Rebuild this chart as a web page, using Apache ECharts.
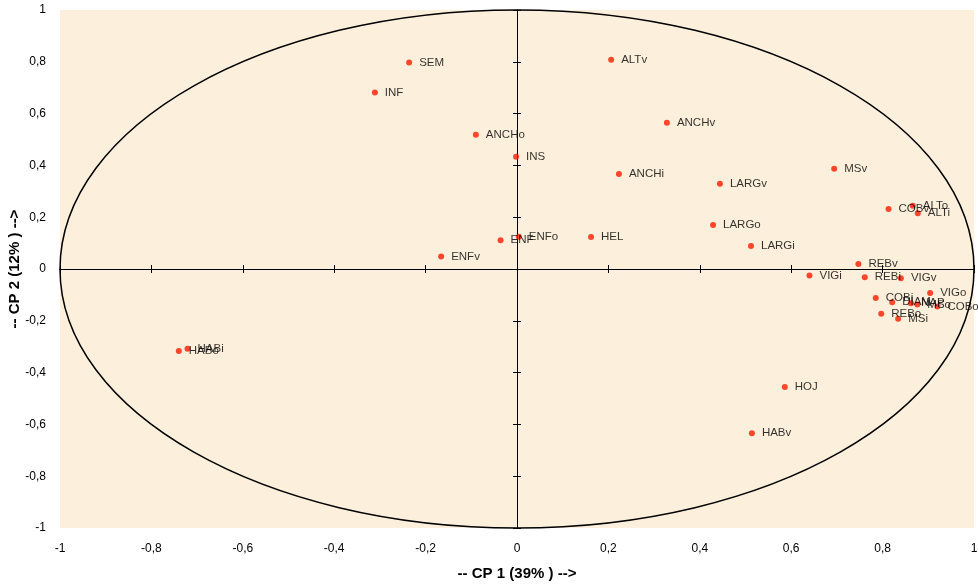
<!DOCTYPE html>
<html>
<head>
<meta charset="utf-8">
<script src="https://cdn.jsdelivr.net/npm/echarts@6/dist/echarts.min.js"></script>
<style>
    html, body {margin: 0; padding: 0; background: #fff;}
    #box {width: 978px; height: 587px;}
</style>
</head>
<body>
<div id="box"></div>
<script>
//变量名称
var names = ['SEM', 'INF', 'ALTv', 'ANCHo', 'ANCHv', 'INS', 'ANCHi', 'MSv', 'LARGv', 'COBv', 'ALTo', 'ALTi',
    'LARGo', 'LARGi', 'HEL', 'ENFo', 'ENF', 'ENFv', 'REBv', 'VIGi', 'REBi', 'VIGv', 'VIGo', 'COBi',
    'DIAM', 'NAP', 'MSo', 'COBo', 'REBo', 'MSi', 'HOJ', 'HABv', 'HABo', 'HABi'];
//CP 1 坐标
var cp1 = [-0.236, -0.311, 0.206, -0.090, 0.328, -0.002, 0.223, 0.694, 0.444, 0.813, 0.866, 0.877,
    0.429, 0.512, 0.162, 0.004, -0.036, -0.166, 0.747, 0.640, 0.761, 0.840, 0.904, 0.785,
    0.821, 0.862, 0.876, 0.920, 0.797, 0.834, 0.586, 0.514, -0.740, -0.721];
//CP 2 坐标
var cp2 = [0.797, 0.681, 0.808, 0.518, 0.565, 0.433, 0.367, 0.387, 0.329, 0.232, 0.244, 0.215,
    0.170, 0.089, 0.124, 0.125, 0.111, 0.048, 0.019, -0.025, -0.032, -0.036, -0.093, -0.112,
    -0.128, -0.132, -0.137, -0.145, -0.173, -0.192, -0.456, -0.634, -0.317, -0.308];
//刻度
var axisMin = -1, axisMax = 1, axisStep = 0.2;

var chart = echarts.init(document.getElementById('box'));

function tickLabel(v) {
    var r = Math.round(v * 10) / 10;
    return r === 0 ? '0' : String(r).replace('.', ',');
}

var points = names.map(function (n, i) {
    return {name: n, value: [cp1[i], cp2[i]]};
});

var font = 'Liberation Sans, Arial, sans-serif';

function labelAxis(extra) {
    return echarts.util.extend({
        type: 'value', min: axisMin, max: axisMax, interval: axisStep,
        axisLine: {show: false, onZero: false},
        axisTick: {show: false},
        splitLine: {show: false},
        nameMoveOverlap: false
    }, extra);
}

function zeroAxis(pos, inside) {
    return {
        type: 'value', min: axisMin, max: axisMax, interval: axisStep, position: pos,
        axisLine: {show: true, onZero: true, lineStyle: {color: '#000', width: 1}},
        axisTick: {show: true, inside: inside, length: 4, lineStyle: {color: '#000'}},
        axisLabel: {show: false},
        splitLine: {show: false}
    };
}

var option = {
    animation: false,
    grid: {
        left: 60, top: 10, width: 914, height: 518,
        outerBoundsMode: 'none', containLabel: false,
        show: true, backgroundColor: '#fcf0dc', borderWidth: 0
    },
    xAxis: [
        labelAxis({
            position: 'bottom',
            name: '-- CP 1 (39% ) -->', nameLocation: 'middle', nameGap: 38,
            nameTextStyle: {color: '#000', fontSize: 15, fontWeight: 'bold', fontFamily: font},
            axisLabel: {color: '#000', fontSize: 12, fontFamily: font, margin: 15, formatter: tickLabel}
        }),
        zeroAxis('bottom', false),
        zeroAxis('bottom', true)
    ],
    yAxis: [
        labelAxis({
            position: 'left',
            name: '-- CP 2 (12% ) -->', nameLocation: 'middle', nameGap: 38, nameRotate: 90,
            nameTextStyle: {color: '#000', fontSize: 15, fontWeight: 'bold', fontFamily: font},
            axisLabel: {color: '#000', fontSize: 12, fontFamily: font, margin: 14, formatter: tickLabel}
        }),
        zeroAxis('left', false),
        zeroAxis('left', true)
    ],
    series: [
        {
            //相关圆
            type: 'custom',
            silent: true,
            clip: false,
            data: [[0, 0, 1]],
            renderItem: function (params, api) {
                var c = api.coord([api.value(0), api.value(1)]);
                var s = api.size([api.value(2), api.value(2)]);
                return {
                    type: 'ellipse',
                    shape: {cx: c[0], cy: c[1], rx: s[0], ry: s[1]},
                    style: {fill: 'none', stroke: '#000', lineWidth: 1.5}
                };
            }
        },
        {
            type: 'scatter',
            symbolSize: 6,
            itemStyle: {color: '#ff1c00'},
            label: {
                show: true, position: 'right', distance: 7,
                color: '#000', fontSize: 11.5, fontFamily: font,
                formatter: function (p) { return p.name; }
            },
            labelLayout: {hideOverlap: false},
            data: points
        }
    ]
};
chart.setOption(option);
</script>
</body>
</html>
